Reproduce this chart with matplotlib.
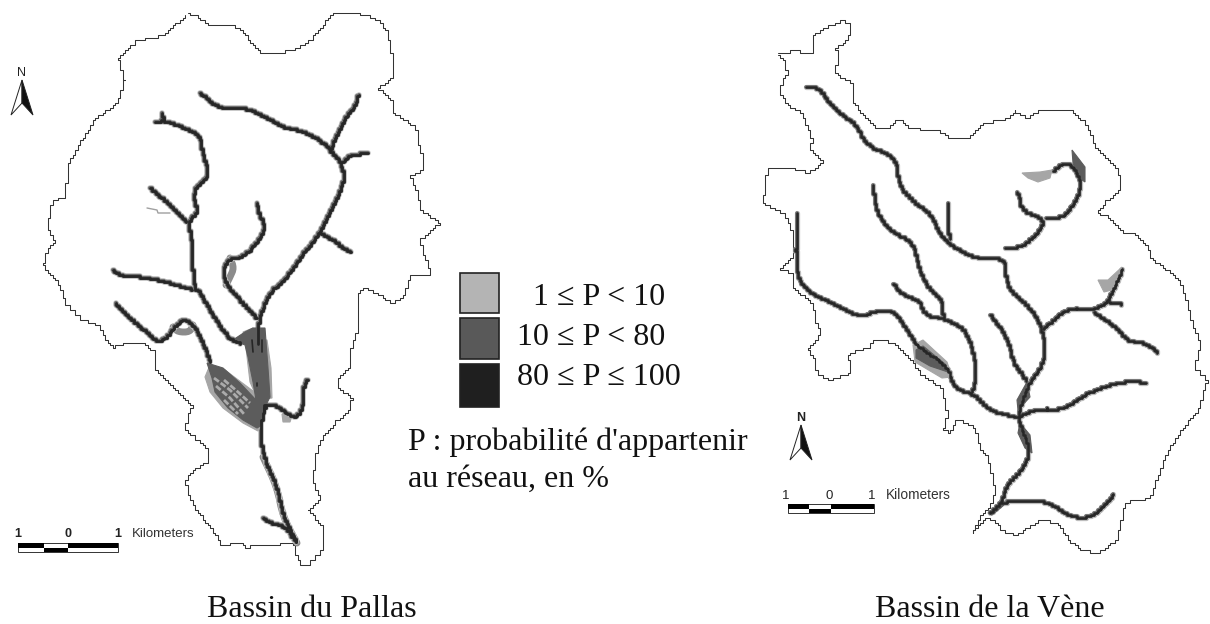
import matplotlib
matplotlib.use("Agg")
import matplotlib.pyplot as plt
from matplotlib.patches import Polygon, Rectangle

# ---------- DATA (map coordinates) ----------
pallas_outline = [(187,13),(195,15),(208,24),(233,25),(240,28),(247,38),(260,52),(283,52),(300,47),(312,38),(325,22),(333,13),
 (347,13),(358,13),(372,17),(380,22),(387,32),(390,47),(392,57),(393,77),(385,84),(378,89),(385,93),(392,103),(393,113),(405,120),
 (416,127),(418,145),(422,155),(423,170),(411,175),(412,183),(418,195),(420,210),(430,216),(440,223),(430,232),(420,240),(422,250),
 (428,265),(430,275),(410,276),(405,292),(400,300),(392,302),(380,295),(365,287),(358,292),(358,330),(352,343),(349,367),(337,380),
 (337,388),(352,397),(350,410),(340,418),(322,437),(315,457),(313,480),(320,500),(308,510),(322,527),(323,550),(308,565),(302,565),
 (297,557),(293,543),(263,545),(245,547),(242,542),(222,545),(213,530),(192,503),(185,482),(190,472),(208,460),(207,448),(185,428),
 (187,417),(192,405),(177,390),(155,368),(156,352),(143,343),(127,342),(115,347),(107,342),(100,325),(83,320),(66,303),(60,285),
 (43,265),(47,248),(55,242),(47,227),(52,200),(65,197),(68,163),(80,143),(95,118),(117,103),(124,80),(118,58),(137,40),(163,35),
 (183,17),(187,13)]

pallas_rivers = [
 [(200,93),(215,106),(225,108),(243,107),(262,115),(282,127),(300,130),(320,140),(330,150),(342,165),(344,183),(332,208),(320,233),
  (300,258),(285,280),(270,292),(262,310),(258,325),(258,345)],
 [(265,405),(260,430),(263,457),(277,487),(283,517),(297,543)],
 [(358,95),(355,107),(345,118),(335,140),(330,150)],
 [(367,153),(350,155),(342,163)],
 [(320,233),(333,240),(345,250),(352,252)],
 [(155,122),(163,120),(177,125),(200,135),(202,153),(210,175),(197,185),(193,197),(198,213),(187,223),(192,240),(193,287),(200,293),
  (217,323),(230,340),(240,343)],
 [(162,112),(163,120)],
 [(150,188),(167,203),(187,223)],
 [(113,270),(120,276),(147,277),(170,283),(193,290)],
 [(257,203),(258,213),(265,227),(258,242),(243,257),(230,258),(222,270),(227,287),(240,300),(258,320)],
 [(115,303),(128,317),(147,333),(157,342),(165,338),(173,327),(183,318),(193,325),(203,343),(210,363)],
 [(307,380),(302,390),(303,407),(297,418),(287,413),(277,405),(267,404),(263,412)],
 [(263,518),(270,523),(283,525),(297,543)],
]
pallas_light_lines = [[(147,208),(157,210),(158,213),(170,213)]]
pallas_mid_lines = [[(230,258),(234,268),(230,277),(226,285)],
                    [(173,327),(178,332),(190,332),(193,325)],
                    [(263,457),(277,487),(283,517),(297,543)]]
pallas_core_bits = [[(252,340),(253,352)],[(262,340),(262,352)],[(257,383),(257,386)]]
pallas_light_patches = [
 [(205,377),(210,392),(223,408),(243,423),(258,431),(264,420),(265,400),(245,385),(225,370),(210,365)],
 [(243,332),(253,328),(255,335),(246,340)],
 [(282,414),(292,416),(290,422),(283,422)],
 [(246,348),(250,382),(258,400),(272,398),(271,368),(267,340),(258,340)],
]
pallas_dark_patches = [
 [(207,363),(223,368),(240,383),(256,400),(253,382),(248,357),(245,345),(233,340),(245,332),(253,328),(265,328),(268,368),(270,397),
  (265,407),(262,425),(257,428),(243,420),(228,408),(215,392),(212,378)],
]
pallas_streaks = [[(214,378),(230,390),(248,408)],[(216,386),(230,398),(244,414)],[(224,380),(238,392),(250,403)],[(224,400),(238,414)]]

vene_outline = [(777,53),(788,52),(798,49),(803,53),(812,53),(813,35),(825,27),(835,23),(842,19),(850,25),(851,33),(845,43),(836,47),
 (837,63),(835,72),(842,78),(850,80),(853,88),(852,102),(875,128),(887,128),(898,119),(910,128),(938,130),(950,138),(970,137),(983,123),
 (1007,118),(1015,111),(1027,117),(1037,111),(1057,109),(1070,109),(1087,125),(1095,147),(1117,168),(1121,188),(1108,200),(1097,212),
 (1108,217),(1123,232),(1133,232),(1148,247),(1150,257),(1177,278),(1183,290),(1192,323),(1200,343),(1195,368),(1207,380),(1198,410),
 (1180,432),(1167,453),(1150,498),(1125,502),(1117,540),(1098,553),(1083,550),(1070,540),(1058,523),(1042,519),(1017,535),(1002,530),
 (998,522),(988,517),(973,532),(980,517),(992,502),(995,490),(988,458),(980,448),(975,427),(958,419),(950,432),(943,430),(947,415),
 (942,388),(920,373),(913,360),(893,342),(875,339),(868,348),(857,350),(848,355),(850,373),(830,380),(817,373),(815,360),(808,347),
 (818,337),(820,330),(815,320),(813,302),(793,288),(792,273),(780,268),(793,257),(792,230),(785,213),(763,202),(767,167),(800,169),
 (807,173),(823,162),(810,148),(812,138),(802,113),(787,103),(780,92),(782,80),(787,73),(785,60),(777,53)]

vene_rivers = [
 [(805,87),(818,87),(832,108),(857,125),(865,145),(897,158),(898,185),(913,202),(932,215),(940,237),(963,253),(977,258),(1005,258),
  (1005,277),(1010,292),(1027,305),(1043,328),(1045,363),(1028,383),(1017,417),(1022,430),(1030,453),(1020,473),(1007,483),(1002,502),(990,513)],
 [(1043,328),(1067,307),(1090,310),(1108,302),(1122,268)],
 [(1108,302),(1122,304)],
 [(1093,312),(1117,328),(1125,340),(1147,343),(1157,353)],
 [(1005,248),(1020,247),(1037,233),(1045,218),(1023,212),(1017,190)],
 [(1045,218),(1063,218),(1082,190),(1075,165),(1062,163),(1052,172)],
 [(948,203),(947,227),(950,240)],
 [(873,185),(875,207),(882,222),(893,233),(913,242),(918,267),(927,287),(942,300),(943,318)],
 [(892,283),(902,295),(920,300),(923,315),(943,318),(967,330),(977,370),(972,393)],
 [(797,213),(795,273),(807,292),(833,303),(858,317),(877,310),(893,310),(907,330),(917,347),(947,365),(953,388),(972,393),(988,410),(1017,417)],
 [(990,315),(1007,337),(1013,363),(1027,382)],
 [(1017,417),(1037,408),(1062,410),(1090,390),(1127,380),(1147,383)],
 [(1002,502),(1033,500),(1050,503),(1070,517),(1093,517),(1115,492)],
]
vene_light_patches = [
 [(1022,173),(1040,172),(1052,170),(1050,178),(1038,182),(1028,178)],
 [(1098,280),(1108,280),(1122,267),(1112,290),(1104,292)],
 [(913,345),(923,340),(947,362),(952,377),(942,378),(915,362)],
]
vene_dark_patches = [
 [(1072,150),(1085,167),(1085,182),(1078,177),(1073,163)],
 [(916,350),(923,346),(945,364),(948,372),(930,366),(916,358)],
 [(1027,382),(1030,397),(1018,410),(1017,400)],
 [(1020,423),(1030,435),(1032,453),(1025,448),(1018,433)],
 [(1000,504),(1004,505),(992,515),(988,513)],
]

legend_labels = ["1 \u2264 P < 10", "10 \u2264 P < 80", "80 \u2264 P \u2264 100"]
legend_colors = ["#b4b4b4", "#595959", "#1f1f1f"]
legend_boxes = [(460,273,39,40), (460,318,39,41), (460,364,39,43)]
note_lines = ["P : probabilit\u00e9 d'appartenir", "au r\u00e9seau, en %"]
basin_titles = ["Bassin du Pallas", "Bassin de la V\u00e8ne"]
scale_labels = ["1", "0", "1", "Kilometers"]

# ---------- DRAWING ----------
SERIF = "Liberation Serif"
SANS = "Liberation Sans"
fig = plt.figure(figsize=(12.1, 6.24), dpi=100, facecolor="white")
ax = fig.add_axes([0, 0, 1, 1])
ax.set_xlim(0, 1210); ax.set_ylim(624, 0); ax.axis("off")

def poly(pts, **kw):
    ax.add_patch(Polygon(pts, closed=True, **kw))

def line(pts, **kw):
    xs, ys = zip(*pts)
    ax.plot(xs, ys, solid_capstyle="round", solid_joinstyle="round", **kw)

def smooth(pts, n=2):
    """Corner cutting, for display only: the traced vertices stay the data."""
    for _ in range(n):
        out = [pts[0]]
        for (a, b), (c, d) in zip(pts[:-1], pts[1:]):
            out += [(0.75*a + 0.25*c, 0.75*b + 0.25*d), (0.25*a + 0.75*c, 0.25*b + 0.75*d)]
        out.append(pts[-1])
        pts = out
    return pts

def pixelate(pts, grid):
    """Snap the traced path to a coarse raster so it shows the stair steps of the scan."""
    out = []
    for (a, b), (c, d) in zip(pts[:-1], pts[1:]):
        k = max(1, int(max(abs(c - a), abs(d - b))))
        for i in range(k):
            t = i / k
            x = round((a + (c - a) * t) / grid) * grid
            y = round((b + (d - b) * t) / grid) * grid
            if not out or out[-1] != (x, y):
                if out and out[-1][0] != x and out[-1][1] != y:
                    out.append((x, out[-1][1]))
                out.append((x, y))
    return out

def draw_outline(pts):
    line(pixelate(pts, 2.5), color="#333333", lw=0.75, zorder=1)

def draw_river(pts, core=2.0):
    s = pixelate(smooth(pts), 1.5)
    line(s, color="#bdbdbd", lw=core + 2.0, zorder=2)
    line(s, color="#707070", lw=core + 0.9, zorder=2.1)
    line(s, color="#262626", lw=core, zorder=5)

# Pallas
draw_outline(pallas_outline)
for l in pallas_mid_lines:
    line(smooth(l), color="#8c8c8c", lw=5.0, zorder=1.5)
for l in pallas_light_lines:
    line(l, color="#a0a0a0", lw=1.0, zorder=1.5)
for r in pallas_rivers:
    draw_river(r)
for p in pallas_light_patches:
    poly(p, fc="#a6a6a6", ec="#a6a6a6", lw=0.8, zorder=2.5)
for p in pallas_dark_patches:
    poly(p, fc="#5c5c5c", ec="#5c5c5c", lw=0.8, zorder=2.7)
for s in pallas_streaks:
    line(s, color="#ababab", lw=2.0, zorder=2.9, ls=(0, (2.2, 0.8)))
for b in pallas_core_bits:
    line(b, color="#262626", lw=1.2, zorder=5)

# Vene
draw_outline(vene_outline)
for r in vene_rivers:
    draw_river(r, core=1.8)
for p in vene_light_patches:
    poly(p, fc="#a6a6a6", ec="#a6a6a6", lw=0.8, zorder=2.5)
for p in vene_dark_patches:
    poly(p, fc="#5c5c5c", ec="#5c5c5c", lw=0.8, zorder=2.7)

def north(tip_x, tip_y, w, h, notch, label_y, size, weight):
    poly([(tip_x, tip_y), (tip_x - w, tip_y + h), (tip_x, tip_y + notch)], fc="white", ec="#222222", lw=0.7, zorder=6)
    poly([(tip_x, tip_y), (tip_x + w, tip_y + h), (tip_x, tip_y + notch)], fc="#111111", ec="#222222", lw=0.7, zorder=6)
    ax.text(tip_x - 0.5, label_y, "N", family=SANS, fontsize=size, fontweight=weight, ha="center", va="baseline", color="#222222")

north(22, 80, 11, 35, 23, 76, 9, "normal")
north(801, 425, 11, 35, 23, 421, 9, "bold")

def scalebar(x0, x1, x2, x3, y0, y1, lab_xs, lab_y, km_x, size, km_size, weight):
    ym = (y0 + y1) / 2
    ax.add_patch(Rectangle((x0, y0), x3 - x0, y1 - y0, fc="white", ec="#333333", lw=0.7, zorder=6))
    ax.add_patch(Rectangle((x0, y0), x1 - x0, ym - y0, fc="black", ec="none", zorder=7))
    ax.add_patch(Rectangle((x2, y0), x3 - x2, ym - y0, fc="black", ec="none", zorder=7))
    ax.add_patch(Rectangle((x1, ym), x2 - x1, y1 - ym, fc="black", ec="none", zorder=7))
    for t, x in zip(scale_labels[:3], lab_xs):
        ax.text(x, lab_y, t, family=SANS, fontsize=size, fontweight=weight, ha="center", va="baseline", color="#222222")
    ax.text(km_x, lab_y, scale_labels[3], family=SANS, fontsize=km_size, ha="left", va="baseline", color="#333333")

scalebar(18, 44, 68, 118, 543, 552, (18, 68, 118), 537, 132, 9, 9.5, "bold")
scalebar(788, 809, 831, 874, 504, 513, (786, 829, 872), 499, 886, 9.5, 9.9, "normal")

# Legend
for (x, y, w, h), c in zip(legend_boxes, legend_colors):
    ax.add_patch(Rectangle((x, y), w, h, fc=c, ec="#222222", lw=1.2, zorder=6))
FS = 23
for t, xr, yb in zip(legend_labels, (665, 665, 681), (305, 345, 385)):
    ax.text(xr, yb, t, family=SERIF, fontsize=FS, ha="right", va="baseline", color="#111111")
ax.text(408, 450, note_lines[0], family=SERIF, fontsize=FS, ha="left", va="baseline", color="#111111")
ax.text(408, 487, note_lines[1], family=SERIF, fontsize=FS, ha="left", va="baseline", color="#111111")
ax.text(207, 617, basin_titles[0], family=SERIF, fontsize=FS, ha="left", va="baseline", color="#111111")
ax.text(875, 617, basin_titles[1], family=SERIF, fontsize=FS, ha="left", va="baseline", color="#111111")

fig.savefig("out.png", dpi=100, facecolor="white")
